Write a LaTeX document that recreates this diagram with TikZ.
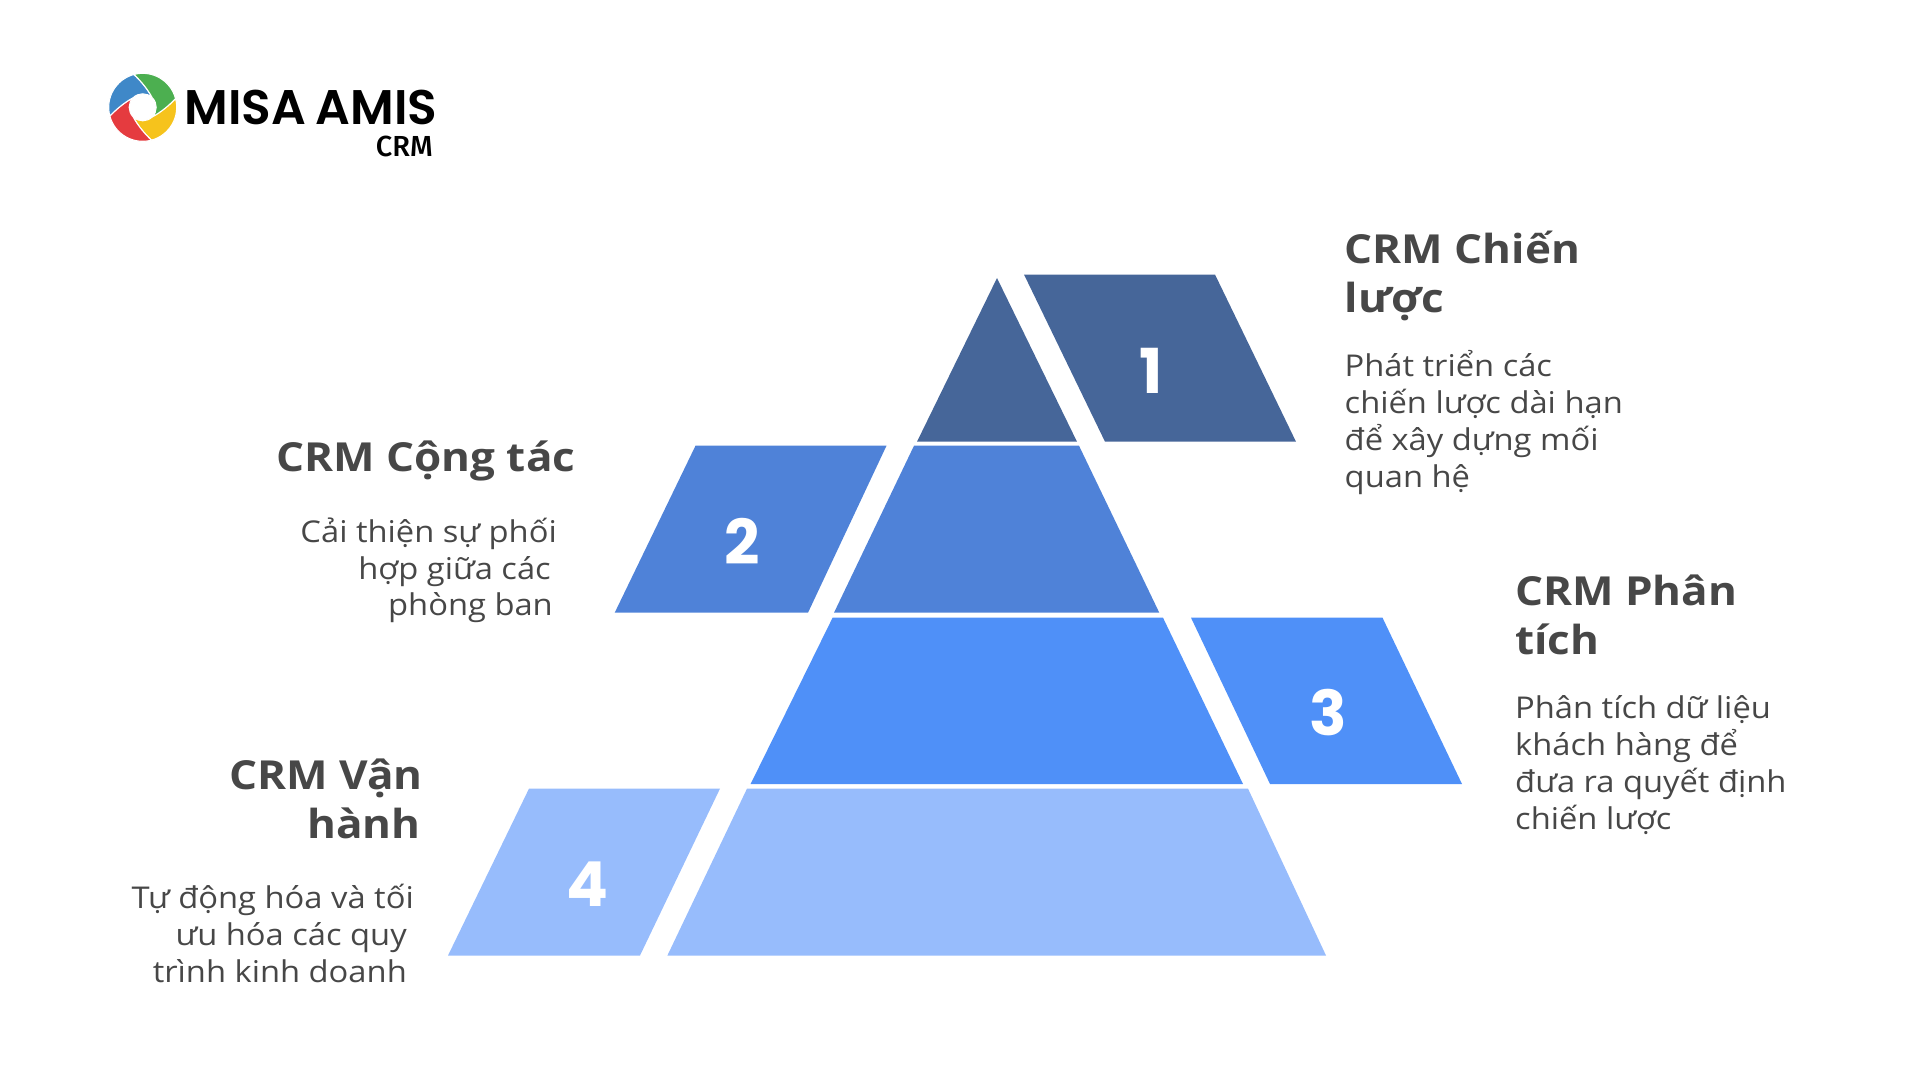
\documentclass[tikz,border=0pt]{standalone}
\usepackage{fontspec}
\setmainfont{Open Sans}[FakeStretch=1.09]
\newfontfamily\headfont{Open Sans}[FakeStretch=1.1]
\newfontfamily\numfont{Poppins}
\newfontfamily\logofont{Poppins}[UprightFont=* SemiBold]
\newfontfamily\crmfont{Fira Sans}[UprightFont=* Medium]
\definecolor{lvlA}{HTML}{466699}
\definecolor{lvlB}{HTML}{4F82D8}
\definecolor{lvlC}{HTML}{4F90F8}
\definecolor{lvlD}{HTML}{97BCFC}
\definecolor{txtgrey}{HTML}{474747}
\definecolor{logoY}{HTML}{F6C31C}
\definecolor{logoR}{HTML}{E53B3F}
\definecolor{logoB}{HTML}{3F88C8}
\definecolor{logoG}{HTML}{4CAF50}
\tikzset{
  headtext/.style={inner sep=0pt,text=txtgrey,font={\headfont\bfseries\fontsize{40}{49}\selectfont}},
  bodytext/.style={inner sep=0pt,text=txtgrey,font={\fontsize{30}{36.7}\selectfont}},
  numtext/.style={inner sep=0pt,text=white,anchor=base,font={\numfont\bfseries\fontsize{62}{62}\selectfont}},
  blade/.style={draw=white,line width=1.1pt}
}
\begin{document}
\begin{tikzpicture}[x=1pt,y=-1pt]
\useasboundingbox (0,0) rectangle (1920,1080);
% pyramid layers
\fill[lvlA] (997,278) -- (1077,441.7) -- (917,441.7) -- cycle;
\fill[lvlB] (914,445.7) -- (1079,445.7) -- (1159.3,612.7) -- (834,612.7) -- cycle;
\fill[lvlC] (832.6,617.7) -- (1163,617.7) -- (1243,784) -- (750.6,784) -- cycle;
\fill[lvlD] (747,788.6) -- (1248,788.6) -- (1326,955.5) -- (667.4,955.5) -- cycle;
% side parallelograms
\fill[lvlA] (1024,274.5) -- (1215,274.5) -- (1296,441.7) -- (1105,441.7) -- cycle;
\fill[lvlB] (695.5,445.7) -- (886.5,445.7) -- (808,612.7) -- (614.7,612.7) -- cycle;
\fill[lvlC] (1191,617.7) -- (1382.5,617.7) -- (1462,784) -- (1270,784) -- cycle;
\fill[lvlD] (529,788.6) -- (720,788.6) -- (640,955.5) -- (448,955.5) -- cycle;
% numbers
\node[numtext] (n1) at (1151,393) {1};
\node[numtext] (n2) at (742,564) {2};
\node[numtext] (n3) at (1328.5,735) {3};
\node[numtext] (n4) at (587,906) {4};
% texts (base anchor = baseline of the last line)
\node[headtext,anchor=base west,align=left] (h1) at (1344.5,312) {CRM Chiến\\lược};
\node[bodytext,anchor=base west,align=left] (b1) at (1344.5,487) {Phát triển các\\chiến lược dài hạn\\để xây dựng mối\\quan hệ};
\node[headtext,anchor=base east,align=right] (h2) at (575.5,471.7) {CRM Cộng tác};
\node[bodytext,anchor=base east,align=right] (b2) at (557,615.9) {Cải thiện sự phối\\hợp giữa các\kern6pt\\phòng ban\kern4pt};
\node[headtext,anchor=base west,align=left] (h3) at (1515,654.8) {CRM Phân\\tích};
\node[bodytext,anchor=base west,align=left] (b3) at (1515,829) {Phân tích dữ liệu\\khách hàng để\\đưa ra quyết định\\chiến lược};
\node[headtext,anchor=base east,align=right] (h4) at (423,838.8) {CRM Vận\\hành\kern2pt};
\node[bodytext,anchor=base east,align=right] (b4) at (414,982) {Tự động hóa và tối\\ưu hóa các quy\kern7pt\\trình kinh doanh\kern7pt};
% logo
\foreach \rot/\col in {0/logoY,-90/logoR,180/logoB,90/logoG}{
  \begin{scope}[shift={(142.7,107.3)},x=1pt,y=1pt,rotate=\rot]
    \fill[\col,blade] (15:34) arc[start angle=15,end angle=-75,radius=34]
      .. controls (-85:27) and (-105:19) .. (-135:13.5)
      arc[start angle=-135,end angle=-45,radius=13.5]
      .. controls (-15:19) and (5:27) .. cycle;
  \end{scope}
}
\node[inner sep=0pt,text depth=0pt,anchor=base west,font={\logofont\fontsize{48.6}{48.6}\selectfont}] (logoname) at (184.5,124) {MISA\kern-2pt\ AMIS};
\node[inner sep=0pt,text height=19pt,anchor=base east,font={\crmfont\fontsize{29}{29}\selectfont}] (logocrm) at (433,156) {CRM};
\end{tikzpicture}
\end{document}
